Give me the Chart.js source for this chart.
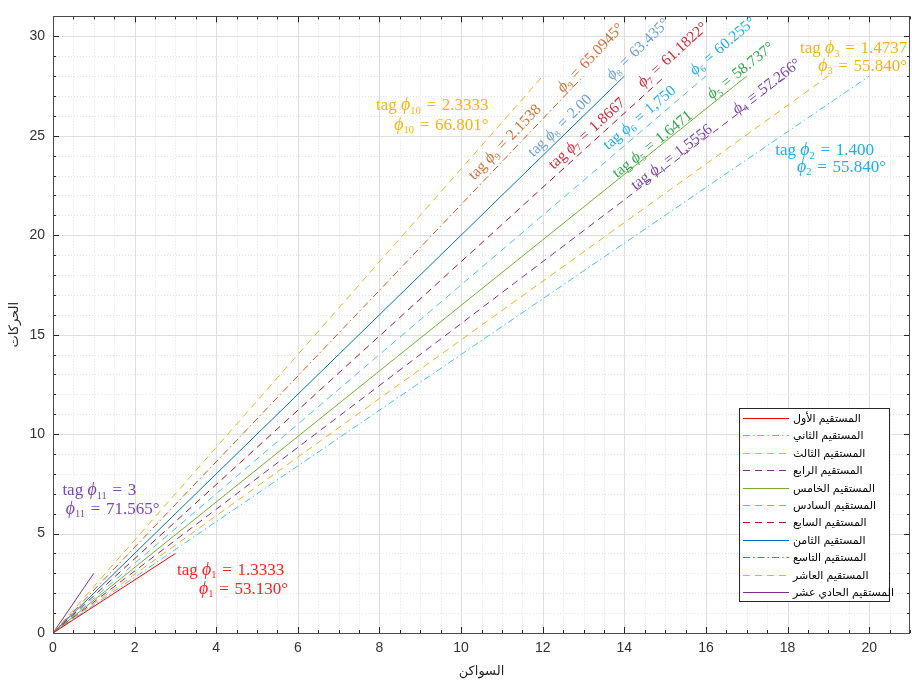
<!DOCTYPE html>
<html lang="ar">
<head>
<meta charset="utf-8">
<title>المستقيمات</title>
<script src="https://cdn.jsdelivr.net/npm/chart.js@4/dist/chart.umd.min.js"></script>
<style>
  html, body { margin: 0; padding: 0; background: #fff; }
  #chart { display: block; }
</style>
</head>
<body>
<canvas id="chart" width="912" height="681"></canvas>
<script>
// Data
const lineNames = [
    'المستقيم الأول', 'المستقيم الثاني', 'المستقيم الثالث', 'المستقيم الرابع',
    'المستقيم الخامس', 'المستقيم السادس', 'المستقيم السابع', 'المستقيم الثامن',
    'المستقيم التاسع', 'المستقيم العاشر', 'المستقيم الحادي عشر'
];
const endX = [3, 20, 19, 18, 17, 16, 15, 14, 13, 12, 1];
const endY = [4, 28, 28, 28, 28, 28, 28, 28, 28, 28, 3];
const tagValues = ['1.3333', '1.400', '1.4737', '1,5556', '1.6471', '1,750', '1.8667', '2.00', '2.1538', '2.3333', '3'];
const angleValues = ['53.130°', '55.840°', '55.840°', '57.266°', '58.737°', '60.255°', '61.1822°', '63.435°', '65.0945°', '66.801°', '71.565°'];
const xTickValues = [0, 2, 4, 6, 8, 10, 12, 14, 16, 18, 20];
const yTickValues = [0, 5, 10, 15, 20, 25, 30];

// Styles
const lineColors = ['#FF0000', '#4DBEEE', '#EDB120', '#7E2F8E', '#77AC30', '#4DBEEE', '#A2142F', '#0072BD', '#D95319', '#EDB120', '#7E2F8E'];
const DASH = [7, 5];
const DASHDOT = [7, 3, 1.5, 3];
const lineDashes = [[], DASHDOT, DASH, DASH, [], DASH, DASH, [], DASHDOT, DASH, []];
const labelColors = ['#FF1F1F', '#1DAEEE', '#F2B411', '#7B45AE', '#2BA84A', '#1DAEEE', '#D0283A', '#6CA0DA', '#C9733A', '#F5B50F', '#7B45AE'];

// where each pair of labels sits (data units); rotated ones follow their line
const tagAnchors = [
    { x: 3.04, y: 3.2, align: 'left' },
    { x: 17.7, y: 24.3, align: 'left' },
    { x: 20.93, y: 29.43, align: 'right' },
    { x: 15.15, y: 23.95, rotate: true },
    { x: 14.68, y: 24.6, rotate: true },
    { x: 14.36, y: 25.93, rotate: true },
    { x: 13.07, y: 25.14, rotate: true },
    { x: 12.41, y: 25.53, rotate: true },
    { x: 11.06, y: 24.7, rotate: true },
    { x: 10.67, y: 26.57, align: 'right' },
    { x: 0.23, y: 7.21, align: 'left' }
];
const angleAnchors = [
    { x: 3.58, y: 2.26, align: 'left' },
    { x: 18.23, y: 23.46, align: 'left' },
    { x: 20.93, y: 28.54, align: 'right' },
    { x: 17.48, y: 27.51, rotate: true },
    { x: 16.84, y: 28.30, rotate: true },
    { x: 16.40, y: 29.53, rotate: true },
    { x: 15.17, y: 29.09, rotate: true },
    { x: 14.32, y: 29.38, rotate: true },
    { x: 13.16, y: 28.94, rotate: true },
    { x: 10.67, y: 25.58, align: 'right' },
    { x: 0.31, y: 6.27, align: 'left' }
];

const SANS = '"Liberation Sans", "DejaVu Sans", Arial, sans-serif';
const SERIF = '"Liberation Serif", "DejaVu Serif", serif';
const AXIS_COLOR = '#262626';
const LABEL_SIZE = 17;
const ROT_LABEL_SIZE = 15.5;

// rich math-ish label: "tag ϕ₁ = 1.3333"
function labelParts(pre, n, value) {
    return [
        { t: pre, italic: false, scale: 1, dy: 0 },
        { t: 'ϕ', italic: true, scale: 1.05, dy: 0 },
        { t: String(n), italic: false, scale: 0.62, dy: 0.2 },
        { t: '\u2004=\u2004', italic: false, scale: 1, dy: 0 },
        { t: value, italic: false, scale: 1, dy: 0 }
    ];
}

function drawRich(ctx, parts, px, py, angle, align, color, size) {
    ctx.save();
    ctx.translate(px, py);
    ctx.rotate(-angle);
    ctx.fillStyle = color;
    ctx.textBaseline = 'alphabetic';
    ctx.textAlign = 'left';
    let widths = parts.map(p => {
        ctx.font = (p.italic ? 'italic ' : '') + (size * p.scale) + 'px ' + SERIF;
        return ctx.measureText(p.t).width;
    });
    const total = widths.reduce((a, b) => a + b, 0);
    let cx = align === 'right' ? -total : (align === 'left' ? 0 : -total / 2);
    const base = size * 0.33;
    parts.forEach((p, i) => {
        ctx.font = (p.italic ? 'italic ' : '') + (size * p.scale) + 'px ' + SERIF;
        ctx.fillText(p.t, cx, base + p.dy * size);
        cx += widths[i];
    });
    ctx.restore();
}

// minor/major grid under the lines
const gridPlugin = {
    id: 'matlabGrid',
    beforeDatasetsDraw(chart) {
        const { ctx, chartArea: a, scales: { x, y } } = chart;
        ctx.save();
        ctx.lineWidth = 1;
        // minor, dotted
        ctx.strokeStyle = '#e2e2e2';
        ctx.setLineDash([1, 2]);
        ctx.beginPath();
        for (let v = 0.5; v < x.max; v += 0.5) {
            if (xTickValues.includes(v)) continue;
            const px = Math.round(x.getPixelForValue(v)) + 0.5;
            ctx.moveTo(px, a.top); ctx.lineTo(px, a.bottom);
        }
        for (let v = 1; v < y.max; v += 1) {
            if (yTickValues.includes(v)) continue;
            const py = Math.round(y.getPixelForValue(v)) + 0.5;
            ctx.moveTo(a.left, py); ctx.lineTo(a.right, py);
        }
        ctx.stroke();
        // major, solid
        ctx.setLineDash([]);
        ctx.strokeStyle = '#dedede';
        ctx.beginPath();
        xTickValues.forEach(v => {
            const px = Math.round(x.getPixelForValue(v)) + 0.5;
            ctx.moveTo(px, a.top); ctx.lineTo(px, a.bottom);
        });
        yTickValues.forEach(v => {
            const py = Math.round(y.getPixelForValue(v)) + 0.5;
            ctx.moveTo(a.left, py); ctx.lineTo(a.right, py);
        });
        ctx.stroke();
        ctx.restore();
    },
    afterDatasetsDraw(chart) {
        const { ctx, chartArea: a, scales: { x, y } } = chart;
        ctx.save();
        ctx.strokeStyle = AXIS_COLOR;
        ctx.lineWidth = 1;
        ctx.beginPath();
        // inward ticks on all four sides
        for (let v = 0; v <= x.max; v += 0.5) {
            const len = xTickValues.includes(v) ? 6 : 3;
            const px = Math.round(x.getPixelForValue(v)) + 0.5;
            ctx.moveTo(px, a.bottom); ctx.lineTo(px, a.bottom - len);
            ctx.moveTo(px, a.top); ctx.lineTo(px, a.top + len);
        }
        for (let v = 0; v <= y.max; v += 1) {
            const len = yTickValues.includes(v) ? 6 : 3;
            const py = Math.round(y.getPixelForValue(v)) + 0.5;
            ctx.moveTo(a.left, py); ctx.lineTo(a.left + len, py);
            ctx.moveTo(a.right, py); ctx.lineTo(a.right - len, py);
        }
        ctx.stroke();
        ctx.strokeStyle = '#4a4a4a';
        ctx.strokeRect(Math.round(a.left) + 0.5, Math.round(a.top) + 0.5,
            Math.round(a.right - a.left) - 1, Math.round(a.bottom - a.top));
        ctx.restore();
    }
};

// tag / angle labels
const labelPlugin = {
    id: 'phiLabels',
    afterDatasetsDraw(chart) {
        const { ctx, scales: { x, y } } = chart;
        lineNames.forEach((name, i) => {
            const x0 = x.getPixelForValue(0), y0 = y.getPixelForValue(0);
            const x1 = x.getPixelForValue(endX[i]), y1 = y.getPixelForValue(endY[i]);
            const slopeAngle = Math.atan2(y0 - y1, x1 - x0);
            const n = i + 1;
            [[tagAnchors[i], labelParts('tag ', n, tagValues[i])],
             [angleAnchors[i], labelParts('', n, angleValues[i])]].forEach(([an, parts]) => {
                drawRich(ctx, parts, x.getPixelForValue(an.x), y.getPixelForValue(an.y),
                    an.rotate ? slopeAngle : 0, an.rotate ? 'center' : an.align, labelColors[i],
                    an.rotate ? ROT_LABEL_SIZE : LABEL_SIZE);
            });
        });
    }
};

// boxed legend in the lower right corner
const legendPlugin = {
    id: 'boxLegend',
    afterDraw(chart) {
        const { ctx, chartArea: a } = chart;
        const left = a.right - 171, top = a.bottom - 225, w = 150, h = 193;
        ctx.save();
        ctx.fillStyle = '#fff';
        ctx.fillRect(left, top, w, h);
        ctx.strokeStyle = '#262626';
        ctx.lineWidth = 1;
        ctx.strokeRect(Math.round(left) + 0.5, Math.round(top) + 0.5, w, h);
        ctx.font = '11px ' + SANS;
        ctx.textBaseline = 'middle';
        ctx.textAlign = 'left';
        chart.data.datasets.forEach((ds, i) => {
            const ry = Math.round(top + 10 + i * 17.4) + 0.5;
            ctx.strokeStyle = ds.borderColor;
            ctx.setLineDash(ds.borderDash);
            ctx.beginPath();
            ctx.moveTo(left + 4, ry); ctx.lineTo(left + 50, ry);
            ctx.stroke();
            ctx.fillStyle = '#000';
            ctx.fillText(ds.label, left + 54, ry);
        });
        ctx.restore();
    }
};

const tickFont = { family: SANS, size: 14 };

new Chart(document.getElementById('chart'), {
    type: 'scatter',
    data: {
        datasets: lineNames.map((name, i) => ({
            label: name,
            data: [{ x: 0, y: 0 }, { x: endX[i], y: endY[i] }],
            showLine: true,
            borderColor: lineColors[i],
            borderDash: lineDashes[i],
            borderWidth: 1,
            pointRadius: 0,
            fill: false
        }))
    },
    options: {
        responsive: false,
        animation: false,
        layout: { padding: { top: 6, right: 2, left: 0, bottom: 0 } },
        plugins: { legend: { display: false }, tooltip: { enabled: false } },
        scales: {
            x: {
                type: 'linear', min: 0, max: 21,
                afterBuildTicks: s => { s.ticks = xTickValues.map(v => ({ value: v })); },
                afterFit: s => { s.height = 48; },
                ticks: { font: tickFont, color: '#333', padding: 7, maxRotation: 0 },
                grid: { display: false, drawTicks: false },
                border: { display: false },
                title: { display: true, text: 'السواكن', font: { family: SANS, size: 13 }, color: AXIS_COLOR, padding: { top: 0, bottom: 2 } }
            },
            y: {
                type: 'linear', min: 0, max: 31,
                afterBuildTicks: s => { s.ticks = yTickValues.map(v => ({ value: v })); },
                afterFit: s => { s.width = 53; },
                ticks: { font: tickFont, color: '#333', padding: 8 },
                grid: { display: false, drawTicks: false },
                border: { display: false },
                title: { display: true, text: 'الحركات', font: { family: SANS, size: 13 }, color: AXIS_COLOR, padding: { top: 7, bottom: 0 } }
            }
        }
    },
    plugins: [gridPlugin, labelPlugin, legendPlugin]
});
</script>
</body>
</html>
